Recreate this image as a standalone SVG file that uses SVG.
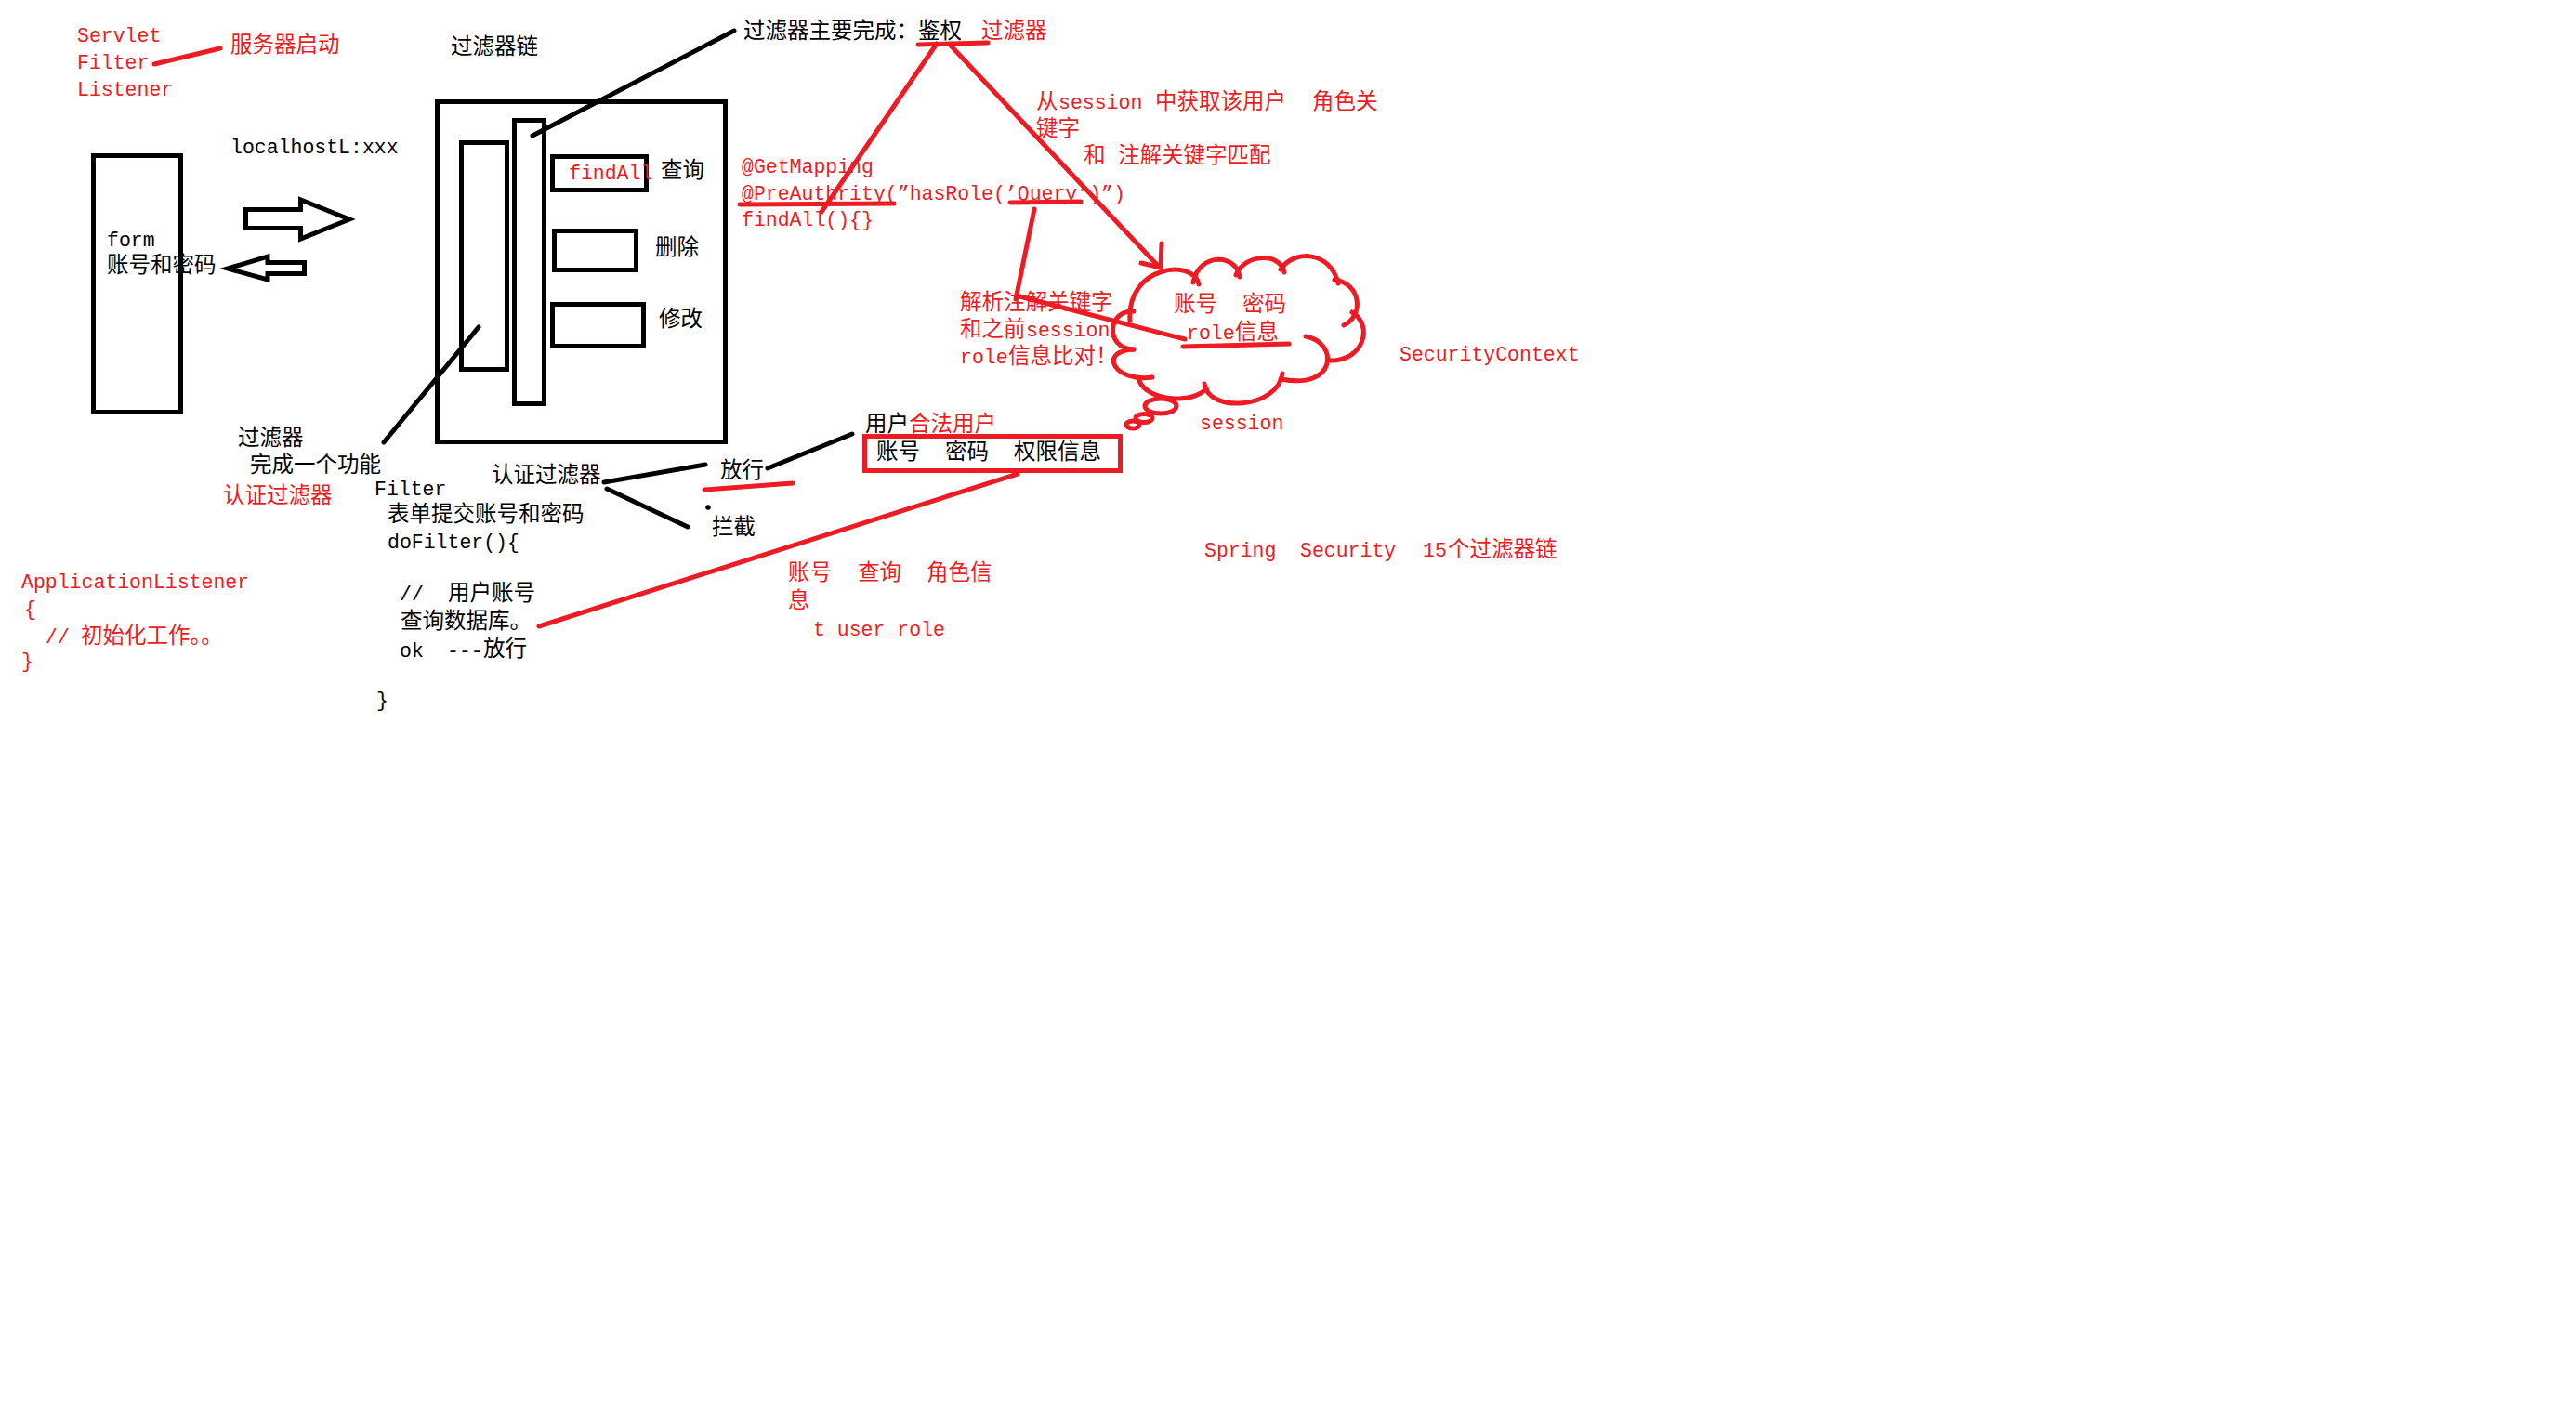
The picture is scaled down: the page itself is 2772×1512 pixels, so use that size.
<svg xmlns="http://www.w3.org/2000/svg" width="2772" height="1512" viewBox="0 0 2772 1512">
  <style>
    .l { font-family: "Liberation Mono", "Noto Sans CJK SC", monospace; font-size: 21.5px; }
    .c { font-family: "Noto Sans CJK SC", "Liberation Sans", sans-serif; font-size: 23.5px; }
    .k { fill: #000; }
    .r { fill: #ED1C24; }
    .box { fill: none; stroke: #000; stroke-width: 5; }
    .wire { fill: none; stroke: #000; stroke-width: 5; stroke-linecap: round; stroke-linejoin: round; }
    .pen { fill: none; stroke: #ED1C24; stroke-width: 5; stroke-linecap: round; stroke-linejoin: round; }
    .fat { fill: #fff; stroke: #000; stroke-width: 5; stroke-linejoin: miter; }
  </style>
  <rect width="2772" height="1512" fill="#fff"/>

  <!-- startup note -->
  <g id="startup-note">
    <text class="l r" x="83" y="45">Servlet</text>
    <text class="l r" x="83" y="74">Filter</text>
    <text class="l r" x="83" y="103">Listener</text>
    <text class="c r" x="248" y="56">服务器启动</text>
  </g>

  <!-- browser form -->
  <g id="form">
    <rect class="box" x="100.5" y="167.5" width="94" height="276"/>
    <text class="l k" x="115" y="265">form</text>
    <text class="c k" x="115" y="293">账号和密码</text>
  </g>

  <g id="url-label">
    <text class="l k" x="248" y="165">localhostL:xxx</text>
  </g>

  <!-- filter chain container -->
  <g id="filter-chain">
    <text class="c k" x="485" y="58">过滤器链</text>
    <rect class="box" x="470.5" y="109.5" width="310" height="366"/>
    <rect class="box" x="496.5" y="153.5" width="49" height="244"/>
    <rect class="box" x="553.5" y="129.5" width="32" height="305"/>
  </g>

  <g id="method-find">
    <rect class="box" x="594.5" y="168.5" width="101" height="36"/>
    <text class="l r" x="612" y="193">findAll</text>
    <text class="c k" x="711" y="191">查询</text>
  </g>
  <g id="method-delete">
    <rect class="box" x="596.5" y="248.5" width="88" height="42"/>
    <text class="c k" x="705" y="274">删除</text>
  </g>
  <g id="method-update">
    <rect class="box" x="594.5" y="327.5" width="98" height="45"/>
    <text class="c k" x="709" y="351">修改</text>
  </g>

  <!-- authorization heading -->
  <g id="auth-title">
    <text class="c k" x="800" y="41">过滤器主要完成：鉴权</text>
    <text class="c r" x="1056" y="41">过滤器</text>
  </g>

  <!-- controller annotation -->
  <g id="annotation">
    <text class="l r" x="798" y="186">@GetMapping</text>
    <text class="l r" x="798" y="215">@PreAuthrity(”hasRole(’Query’)”)</text>
    <text class="l r" x="798" y="243">findAll(){}</text>
  </g>

  <g id="role-match-note">
    <text class="r"><tspan class="c" x="1115" y="117">从</tspan><tspan class="l" x="1139" y="117">session</tspan><tspan class="c" x="1243" y="117">中获取该用户</tspan><tspan class="c" x="1412" y="117">角色关</tspan></text>
    <text class="c r" x="1115" y="146">键字</text>
    <text class="r"><tspan class="c" x="1166" y="175">和</tspan><tspan class="c" x="1203" y="175">注解关键字匹配</tspan></text>
  </g>

  <g id="parse-note">
    <text class="c r" x="1033" y="333">解析注解关键字</text>
    <text class="r"><tspan class="c" x="1033" y="362">和之前</tspan><tspan class="l" x="1104" y="362">session</tspan></text>
    <text class="r"><tspan class="l" x="1033" y="391">role</tspan><tspan class="c" x="1085" y="391">信息比对！</tspan></text>
  </g>

  <!-- session store drawn as a thought cloud -->
  <g id="session-cloud">
    <path class="pen" d="M1220,335 C1192,333 1188,375 1220,376"/>
    <path class="pen" d="M1216,345 C1212,285 1285,278 1290,306"/>
    <path class="pen" d="M1284,304 C1290,272 1330,272 1334,298"/>
    <path class="pen" d="M1330,296 C1340,272 1378,272 1382,293"/>
    <path class="pen" d="M1378,290 C1392,268 1432,270 1440,305"/>
    <path class="pen" d="M1436,301 C1465,305 1468,340 1446,350"/>
    <path class="pen" d="M1455,336 C1478,350 1468,388 1432,388"/>
    <path class="pen" d="M1405,362 C1440,368 1440,420 1378,408"/>
    <path class="pen" d="M1380,402 C1375,440 1300,445 1296,413"/>
    <path class="pen" d="M1298,418 C1285,435 1235,432 1226,410"/>
    <path class="pen" d="M1240,406 C1200,412 1180,378 1220,376"/>
    <ellipse class="pen" cx="1249" cy="437" rx="17" ry="8"/>
    <ellipse class="pen" cx="1231" cy="450" rx="9" ry="4.5"/>
    <ellipse class="pen" cx="1219" cy="457" rx="7" ry="4"/>
    <text class="c r" x="1263" y="335">账号</text>
    <text class="c r" x="1337" y="335">密码</text>
    <text class="r"><tspan class="l" x="1277" y="365">role</tspan><tspan class="c" x="1329" y="365">信息</tspan></text>
    <text class="l r" x="1291" y="462">session</text>
  </g>

  <g id="security-context">
    <text class="l r" x="1506" y="388">SecurityContext</text>
  </g>

  <!-- authenticated user record -->
  <g id="user-record">
    <text class="c k" x="931" y="464">用户</text>
    <text class="c r" x="978" y="464">合法用户</text>
    <rect x="930.5" y="469.5" width="275" height="37" fill="none" stroke="#ED1C24" stroke-width="5"/>
    <text class="c k" x="943" y="494">账号</text>
    <text class="c k" x="1017" y="494">密码</text>
    <text class="c k" x="1091" y="494">权限信息</text>
  </g>

  <g id="role-table-note">
    <text class="c r" x="848" y="624">账号</text>
    <text class="c r" x="923" y="624">查询</text>
    <text class="c r" x="997" y="624">角色信</text>
    <text class="c r" x="848" y="654">息</text>
    <text class="l r" x="875" y="684">t_user_role</text>
  </g>

  <g id="filter-note">
    <text class="c k" x="256" y="479">过滤器</text>
    <text class="c k" x="269" y="508">完成一个功能</text>
    <text class="c r" x="240" y="541">认证过滤器</text>
  </g>

  <g id="auth-filter">
    <text class="c k" x="529" y="519">认证过滤器</text>
    <text class="c k" x="775" y="514">放行</text>
    <circle cx="762" cy="546" r="2.8" fill="#000"/>
    <text class="c k" x="766" y="575">拦截</text>
  </g>

  <!-- filter pseudo code -->
  <g id="filter-code">
    <text class="l k" x="403" y="533">Filter</text>
    <text class="c k" x="417" y="561">表单提交账号和密码</text>
    <text class="l k" x="417" y="590">doFilter(){</text>
    <text class="k"><tspan class="l" x="430" y="646">//</tspan><tspan class="c" x="482" y="646">用户账号</tspan></text>
    <text class="c k" x="431" y="676">查询数据库。</text>
    <text class="k"><tspan class="l" x="430" y="707">ok</tspan><tspan class="l" x="481" y="707">---</tspan><tspan class="c" x="520" y="706">放行</tspan></text>
    <text class="l k" x="405" y="760">}</text>
  </g>

  <g id="app-listener">
    <text class="l r" x="23" y="633">ApplicationListener</text>
    <text class="l r" x="26" y="662">{</text>
    <text class="r"><tspan class="l" x="49" y="692">//</tspan><tspan class="c" x="87" y="692">初始化工作。。</tspan></text>
    <text class="l r" x="23" y="718">}</text>
  </g>

  <g id="spring-security-note">
    <text class="l r" x="1296" y="599">Spring</text>
    <text class="l r" x="1399" y="599">Security</text>
    <text class="l r" x="1531" y="599">15</text>
    <text class="c r" x="1558" y="599">个过滤器链</text>
  </g>

  <!-- connectors -->
  <g id="connectors">
    <polygon class="fat" points="264.5,225.5 323.5,225.5 323.5,215 376,236 323.5,257 323.5,245.5 264.5,245.5"/>
    <polygon class="fat" points="245,289 288,276 288,282.5 327.5,282.5 327.5,294.5 288,294.5 288,301"/>
    <line class="wire" x1="573" y1="146" x2="790" y2="33"/>
    <line class="wire" x1="413" y1="476" x2="515" y2="352"/>
    <line class="wire" x1="650" y1="519" x2="759" y2="500"/>
    <line class="wire" x1="653" y1="526" x2="740" y2="567"/>
    <line class="wire" x1="826" y1="504" x2="917" y2="467"/>

    <line class="pen" x1="166" y1="69" x2="237" y2="52"/>
    <line class="pen" x1="988" y1="48" x2="1063" y2="46"/>
    <line class="pen" x1="1008" y1="47" x2="884" y2="228"/>
    <line class="pen" x1="1022" y1="48" x2="1247" y2="287"/>
    <polyline class="pen" points="1250,262 1249,288 1228,283"/>
    <line class="pen" x1="796" y1="220" x2="962" y2="219"/>
    <line class="pen" x1="1087" y1="218" x2="1163" y2="217"/>
    <line class="pen" x1="1113" y1="225" x2="1093" y2="322"/>
    <line class="pen" x1="1097" y1="319" x2="1275" y2="365"/>
    <line class="pen" x1="1273" y1="373" x2="1387" y2="370"/>
    <line class="pen" x1="758" y1="527" x2="853" y2="520"/>
    <line class="pen" x1="1095" y1="510" x2="580" y2="674"/>
  </g>
</svg>
